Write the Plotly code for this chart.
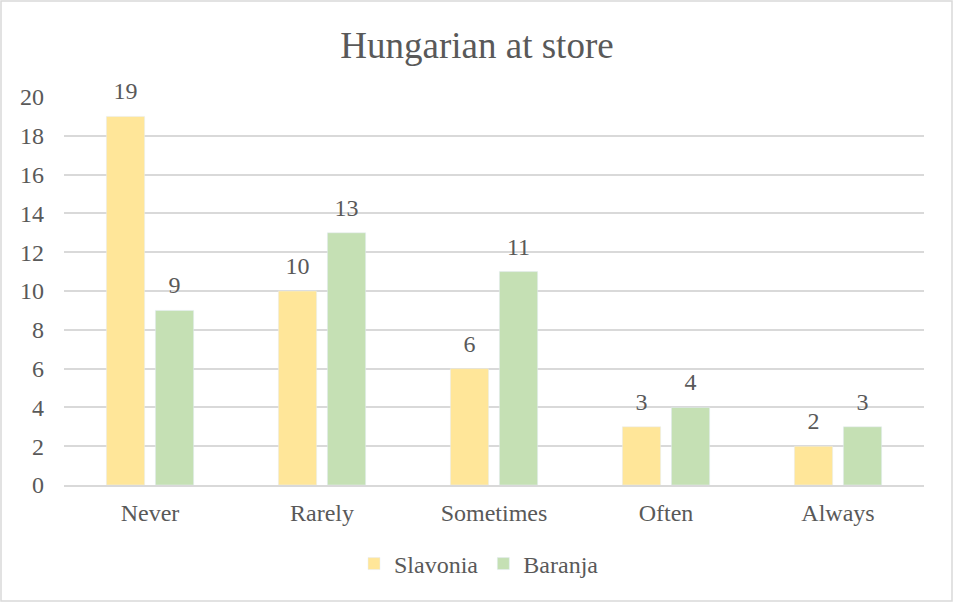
import plotly.graph_objects as go

categories = ["Never", "Rarely", "Sometimes", "Often", "Always"]
slavonia = [19, 10, 6, 3, 2]
baranja = [9, 13, 11, 4, 3]
y_ticks = [0, 2, 4, 6, 8, 10, 12, 14, 16, 18, 20]

FONT = "Liberation Serif, Times New Roman, serif"
TXT = "#595959"
GRID = "#D9D9D9"
FS = 24
GAP = 0.43

fig = go.Figure()
fig.add_trace(go.Bar(x=categories, y=slavonia, name="Slavonia", marker_color="#FFE699",
                     offsetgroup="s", cliponaxis=False))
fig.add_trace(go.Bar(x=categories, y=baranja, name="Baranja", marker_color="#C5E0B4",
                     offsetgroup="b", cliponaxis=False))
# data labels as text-only scatter traces grouped like the bars
for vals, grp in ((slavonia, "s"), (baranja, "b")):
    fig.add_trace(go.Scatter(x=categories, y=vals, mode="markers+text", text=vals,
                             textposition="top center", offsetgroup=grp, showlegend=False,
                             hoverinfo="skip", cliponaxis=False,
                             marker=dict(size=16, opacity=0),
                             textfont=dict(family=FONT, size=FS, color=TXT)))

W, H = 954, 603
L, R, T, B = 64, 30, 97, 118
pw, ph = W - L - R, H - T - B

fig.update_layout(
    width=W, height=H,
    margin=dict(l=L, r=R, t=T, b=B),
    paper_bgcolor="white", plot_bgcolor="white",
    barmode="group", bargap=GAP, bargroupgap=0.22,
    scattermode="group", scattergap=GAP,
    title=dict(text="Hungarian at store", x=0.5, xanchor="center", y=1 - 45 / H, yanchor="middle",
               font=dict(family=FONT, size=37, color=TXT)),
    font=dict(family=FONT, size=FS, color=TXT),
    legend=dict(orientation="h", x=(479 - L) / pw, xanchor="center", y=(H - B - 564) / ph, yanchor="middle",
                font=dict(family=FONT, size=FS, color=TXT), itemwidth=30),
    showlegend=True,
    xaxis=dict(showgrid=False, showline=True, linecolor=GRID, linewidth=1.5, ticks="",
               tickfont=dict(family=FONT, size=FS, color=TXT), ticklabelstandoff=5),
    yaxis=dict(range=[0, 20], tickvals=y_ticks, showgrid=True, gridcolor=GRID, gridwidth=1.5,
               zeroline=False, showline=False, ticks="",
               tickfont=dict(family=FONT, size=FS, color=TXT), ticklabelstandoff=19),
)

fig.add_shape(type="rect", xref="paper", yref="paper",
              x0=(1 - L) / pw, x1=(W - 2 - L) / pw,
              y0=(H - B - (H - 2)) / ph, y1=(H - B - 1) / ph,
              line=dict(color=GRID, width=1.5), fillcolor="rgba(0,0,0,0)")

fig.write_html("out.html", config={"displayModeBar": False},
               post_script="document.body.style.margin='0';document.body.style.overflow='hidden';")
